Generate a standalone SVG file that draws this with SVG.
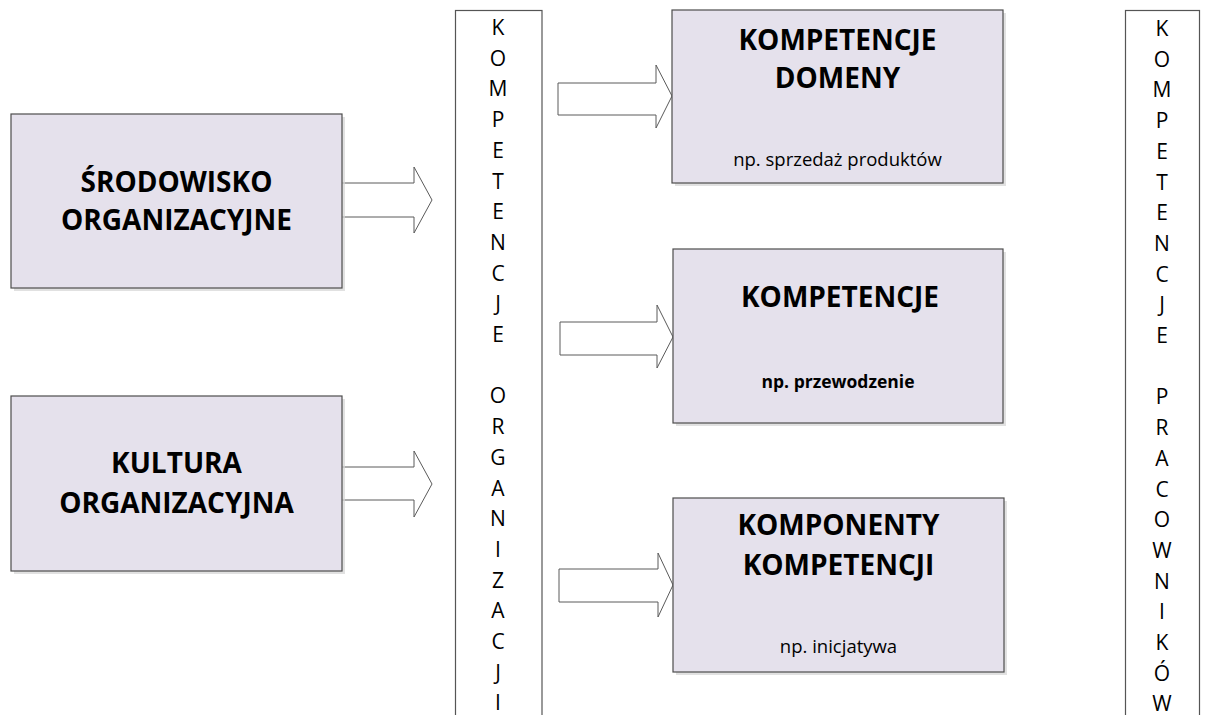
<svg xmlns="http://www.w3.org/2000/svg" width="1205" height="715" viewBox="0 0 1205 715">
<style>
.box{fill:#e5e1ec;stroke:#4d4d4d;stroke-width:1.2}
.shadow{fill:#d4d4d4;opacity:0.7}
.col{fill:#ffffff;stroke:#555555;stroke-width:1.2}
.arrow{fill:#ffffff;stroke:#5a5a5a;stroke-width:1}
.title{font-family:"Open Sans","Liberation Sans",sans-serif;font-weight:bold;font-size:28px;fill:#000;text-anchor:middle}
.sub{font-family:"Open Sans","Liberation Sans",sans-serif;font-size:18.5px;fill:#000;text-anchor:middle}
.subb{font-family:"Open Sans","Liberation Sans",sans-serif;font-size:17.5px;font-weight:bold;fill:#000;text-anchor:middle}
.letters{font-family:"Open Sans","Liberation Sans",sans-serif;font-size:21px;fill:#000;text-anchor:middle}
</style>
<rect width="1205" height="715" fill="#ffffff"/>

<g id="connectors">
  <path class="arrow" d="M342,183 H414 V167 L432,200 L414,233 V217 H342"/>
  <path class="arrow" d="M342,467 H414 V451 L432,484 L414,517 V500 H342"/>
  <path class="arrow" d="M558,83 H656 V65 L672,96 L656,128 V115 H558 Z"/>
  <path class="arrow" d="M560,322 H657 V305 L673,337 L657,368 V355 H560 Z"/>
  <path class="arrow" d="M559,569 H658 V553 L673,585 L658,617 V602 H559 Z"/>
</g>

<g id="srodowisko">
  <rect class="shadow" x="14" y="117" width="331" height="174"/>
  <rect class="box" x="11" y="114" width="331" height="174"/>
  <text class="title" x="176.5" y="192">ŚRODOWISKO</text>
  <text class="title" x="176.5" y="230">ORGANIZACYJNE</text>
</g>

<g id="kultura">
  <rect class="shadow" x="14" y="399" width="331" height="175"/>
  <rect class="box" x="11" y="396" width="331" height="175"/>
  <text class="title" x="176.5" y="473">KULTURA</text>
  <text class="title" x="176.5" y="513">ORGANIZACYJNA</text>
</g>

<g id="kompetencje-organizacji">
  <rect class="col" x="455.5" y="10.5" width="86.5" height="720"/>
  <text class="letters" x="498" y="35"><tspan x="498" dy="0">K</tspan><tspan x="498" dy="30.7">O</tspan><tspan x="498" dy="30.7">M</tspan><tspan x="498" dy="30.7">P</tspan><tspan x="498" dy="30.7">E</tspan><tspan x="498" dy="30.7">T</tspan><tspan x="498" dy="30.7">E</tspan><tspan x="498" dy="30.7">N</tspan><tspan x="498" dy="30.7">C</tspan><tspan x="498" dy="30.7">J</tspan><tspan x="498" dy="30.7">E</tspan><tspan x="498" dy="61.4">O</tspan><tspan x="498" dy="30.7">R</tspan><tspan x="498" dy="30.7">G</tspan><tspan x="498" dy="30.7">A</tspan><tspan x="498" dy="30.7">N</tspan><tspan x="498" dy="30.7">I</tspan><tspan x="498" dy="30.7">Z</tspan><tspan x="498" dy="30.7">A</tspan><tspan x="498" dy="30.7">C</tspan><tspan x="498" dy="30.7">J</tspan><tspan x="498" dy="30.7">I</tspan></text>
</g>

<g id="kompetencje-domeny">
  <rect class="shadow" x="675" y="13" width="331" height="173"/>
  <rect class="box" x="672" y="10" width="331" height="173"/>
  <text class="title" x="837.5" y="50">KOMPETENCJE</text>
  <text class="title" x="837.5" y="88">DOMENY</text>
  <text class="sub" x="837.5" y="166">np. sprzedaż produktów</text>
</g>

<g id="kompetencje">
  <rect class="shadow" x="676" y="252" width="330" height="174"/>
  <rect class="box" x="673" y="249" width="330" height="174"/>
  <text class="title" x="840" y="307">KOMPETENCJE</text>
  <text class="subb" x="838" y="388">np. przewodzenie</text>
</g>

<g id="komponenty">
  <rect class="shadow" x="676" y="501" width="331" height="174"/>
  <rect class="box" x="673" y="498" width="331" height="174"/>
  <text class="title" x="838.5" y="535">KOMPONENTY</text>
  <text class="title" x="838.5" y="575">KOMPETENCJI</text>
  <text class="sub" x="838.5" y="653">np. inicjatywa</text>
</g>

<g id="kompetencje-pracownikow">
  <rect class="col" x="1125.5" y="10.5" width="74" height="720"/>
  <text class="letters" x="1162" y="36"><tspan x="1162" dy="0">K</tspan><tspan x="1162" dy="30.7">O</tspan><tspan x="1162" dy="30.7">M</tspan><tspan x="1162" dy="30.7">P</tspan><tspan x="1162" dy="30.7">E</tspan><tspan x="1162" dy="30.7">T</tspan><tspan x="1162" dy="30.7">E</tspan><tspan x="1162" dy="30.7">N</tspan><tspan x="1162" dy="30.7">C</tspan><tspan x="1162" dy="30.7">J</tspan><tspan x="1162" dy="30.7">E</tspan><tspan x="1162" dy="61.4">P</tspan><tspan x="1162" dy="30.7">R</tspan><tspan x="1162" dy="30.7">A</tspan><tspan x="1162" dy="30.7">C</tspan><tspan x="1162" dy="30.7">O</tspan><tspan x="1162" dy="30.7">W</tspan><tspan x="1162" dy="30.7">N</tspan><tspan x="1162" dy="30.7">I</tspan><tspan x="1162" dy="30.7">K</tspan><tspan x="1162" dy="30.7">Ó</tspan><tspan x="1162" dy="30.7">W</tspan></text>
</g>
</svg>
